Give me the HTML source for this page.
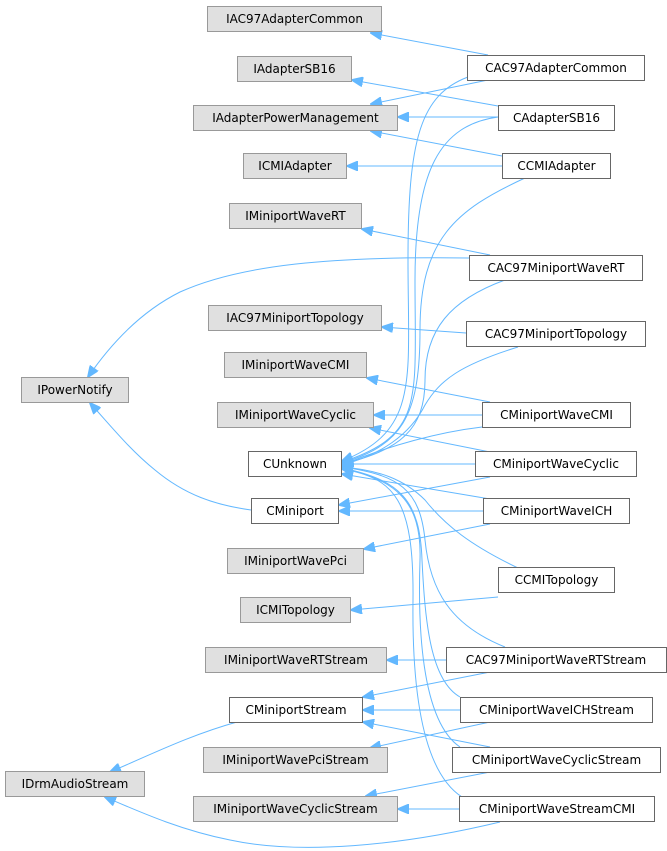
<!DOCTYPE html>
<html><head><meta charset="utf-8"><style>
html,body{margin:0;padding:0;background:#fff;}
svg{display:block}
text{font-family:"DejaVu Sans","Liberation Sans",sans-serif;font-size:12px;fill:#000}
.g{fill:#e0e0e0;stroke:#999;stroke-width:1}
.w{fill:#fff;stroke:#666;stroke-width:1}
.e{fill:none;stroke:#63b8ff;stroke-width:1;marker-end:url(#a)}
</style></head><body>
<svg width="667" height="851" viewBox="0 0 667 851">
<defs><marker id="a" markerWidth="12" markerHeight="10" refX="11" refY="5" orient="auto" markerUnits="userSpaceOnUse"><path d="M0,0 L12,5 L0,10 z" fill="#63b8ff" stroke="#63b8ff"/></marker></defs>
<!-- edges -->
<path class="e" d="M488,55 L371,33"/>
<path class="e" d="M488,80 L371,104"/>
<path class="e" d="M498,106 L352,80"/>
<path class="e" d="M498,117 L398,117"/>
<path class="e" d="M502,156 L371,131"/>
<path class="e" d="M502,166 L347,166"/>
<path class="e" d="M490,255 L362,229"/>
<path class="e" d="M469,258 C330,256 240,265 180,292 C140,312 110,345 88,377"/>
<path class="e" d="M466,333 L382,327"/>
<path class="e" d="M490,402 L367,378"/>
<path class="e" d="M482,415 L374,415"/>
<path class="e" d="M490,452 L370,428"/>
<path class="e" d="M475,464 L342,464"/>
<path class="e" d="M490,477 L339,505"/>
<path class="e" d="M490,499 L342,474"/>
<path class="e" d="M483,511 L339,511"/>
<path class="e" d="M490,524 L364,549"/>
<path class="e" d="M498,597 L351,610"/>
<path class="e" d="M446,660 L387,660"/>
<path class="e" d="M490,672 L363,697"/>
<path class="e" d="M460,710 L363,710"/>
<path class="e" d="M490,722 L370,748"/>
<path class="e" d="M490,747 L363,722"/>
<path class="e" d="M490,772 L366,796"/>
<path class="e" d="M459,809 L398,809"/>
<path class="e" d="M500,822 C400,846 300,855 230,840 C180,830 140,812 105,797"/>
<path class="e" d="M237,722 C190,735 150,755 110,772"/>
<path class="e" d="M251,510 C215,505 185,495 155,470 C130,450 110,425 90,403"/>
<!-- CUnknown fan -->
<path class="e" d="M468,77 C420,95 408,140 408,260 C408,380 420,430 342,461"/>
<path class="e" d="M498,117 C440,125 415,170 415,280 C415,400 425,435 342,462"/>
<path class="e" d="M525,178 C455,210 420,240 420,330 C420,420 400,445 342,463"/>
<path class="e" d="M505,280 C450,300 425,330 425,380 C425,430 400,450 342,464"/>
<path class="e" d="M518,347 C460,365 440,380 425,405 C410,435 380,455 342,465"/>
<path class="e" d="M482,427 C440,432 390,445 342,465"/>
<path class="e" d="M518,568 C470,545 445,525 425,500 C405,480 380,470 342,467"/>
<path class="e" d="M505,647 C450,625 430,590 425,540 C420,490 400,475 342,467"/>
<path class="e" d="M460,697 C430,680 425,620 422,560 C420,500 400,480 342,468"/>
<path class="e" d="M460,747 C420,720 418,620 420,560 C422,500 395,480 342,468"/>
<path class="e" d="M462,797 C420,770 412,680 413,600 C414,500 395,478 342,469"/>
<!-- left nodes -->
<rect class="g" x="207.5" y="6.5" width="174" height="25"/><text x="294.5" y="23" text-anchor="middle">IAC97AdapterCommon</text>
<rect class="g" x="237.5" y="56.5" width="114" height="25"/><text x="294.5" y="73" text-anchor="middle">IAdapterSB16</text>
<rect class="g" x="193.5" y="105.5" width="204" height="25"/><text x="295.5" y="122" text-anchor="middle">IAdapterPowerManagement</text>
<rect class="g" x="243.5" y="153.5" width="103" height="25"/><text x="295" y="170" text-anchor="middle">ICMIAdapter</text>
<rect class="g" x="229.5" y="203.5" width="132" height="25"/><text x="295.5" y="220" text-anchor="middle">IMiniportWaveRT</text>
<rect class="g" x="208.5" y="305.5" width="173" height="25"/><text x="295" y="322" text-anchor="middle">IAC97MiniportTopology</text>
<rect class="g" x="224.5" y="352.5" width="142" height="25"/><text x="295.5" y="369" text-anchor="middle">IMiniportWaveCMI</text>
<rect class="g" x="217.5" y="402.5" width="156" height="25"/><text x="295.5" y="419" text-anchor="middle">IMiniportWaveCyclic</text>
<rect class="g" x="21.5" y="377.5" width="107" height="25"/><text x="75" y="394" text-anchor="middle">IPowerNotify</text>
<rect class="w" x="248.5" y="451.5" width="93" height="25"/><text x="295" y="468" text-anchor="middle">CUnknown</text>
<rect class="w" x="251.5" y="498.5" width="87" height="25"/><text x="295" y="515" text-anchor="middle">CMiniport</text>
<rect class="g" x="227.5" y="548.5" width="136" height="25"/><text x="295.5" y="565" text-anchor="middle">IMiniportWavePci</text>
<rect class="g" x="240.5" y="597.5" width="110" height="25"/><text x="295.5" y="614" text-anchor="middle">ICMITopology</text>
<rect class="g" x="205.5" y="647.5" width="181" height="25"/><text x="296" y="664" text-anchor="middle">IMiniportWaveRTStream</text>
<rect class="w" x="229.5" y="697.5" width="133" height="25"/><text x="296" y="714" text-anchor="middle">CMiniportStream</text>
<rect class="g" x="203.5" y="747.5" width="184" height="25"/><text x="295.5" y="764" text-anchor="middle">IMiniportWavePciStream</text>
<rect class="g" x="5.5" y="771.5" width="139" height="25"/><text x="75" y="788" text-anchor="middle">IDrmAudioStream</text>
<rect class="g" x="193.5" y="796.5" width="204" height="25"/><text x="295.5" y="813" text-anchor="middle">IMiniportWaveCyclicStream</text>
<!-- right nodes -->
<rect class="w" x="467.5" y="55.5" width="177" height="25"/><text x="556" y="72" text-anchor="middle">CAC97AdapterCommon</text>
<rect class="w" x="498.5" y="105.5" width="116" height="25"/><text x="556.5" y="122" text-anchor="middle">CAdapterSB16</text>
<rect class="w" x="502.5" y="153.5" width="108" height="25"/><text x="556.5" y="170" text-anchor="middle">CCMIAdapter</text>
<rect class="w" x="469.5" y="255.5" width="173" height="25"/><text x="556" y="272" text-anchor="middle">CAC97MiniportWaveRT</text>
<rect class="w" x="466.5" y="321.5" width="179" height="25"/><text x="556" y="338" text-anchor="middle">CAC97MiniportTopology</text>
<rect class="w" x="482.5" y="402.5" width="148" height="25"/><text x="556.5" y="419" text-anchor="middle">CMiniportWaveCMI</text>
<rect class="w" x="475.5" y="451.5" width="161" height="25"/><text x="556" y="468" text-anchor="middle">CMiniportWaveCyclic</text>
<rect class="w" x="483.5" y="498.5" width="146" height="25"/><text x="556.5" y="515" text-anchor="middle">CMiniportWaveICH</text>
<rect class="w" x="498.5" y="567.5" width="116" height="25"/><text x="556.5" y="584" text-anchor="middle">CCMITopology</text>
<rect class="w" x="446.5" y="647.5" width="220" height="25"/><text x="556" y="664" text-anchor="middle">CAC97MiniportWaveRTStream</text>
<rect class="w" x="460.5" y="697.5" width="192" height="25"/><text x="556.5" y="714" text-anchor="middle">CMiniportWaveICHStream</text>
<rect class="w" x="452.5" y="747.5" width="208" height="25"/><text x="556.5" y="764" text-anchor="middle">CMiniportWaveCyclicStream</text>
<rect class="w" x="459.5" y="796.5" width="195" height="25"/><text x="557" y="813" text-anchor="middle">CMiniportWaveStreamCMI</text>
</svg>
</body></html>
